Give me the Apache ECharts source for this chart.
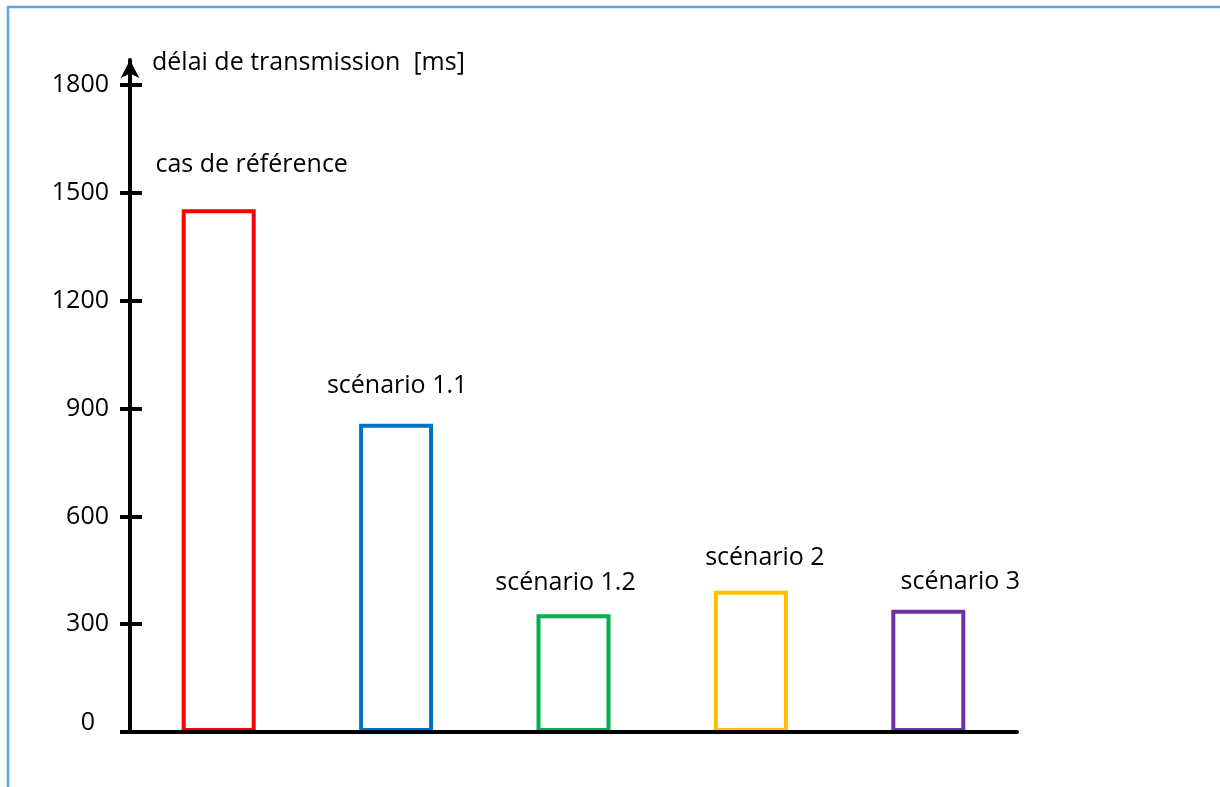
<!DOCTYPE html>
<html>
<head>
<meta charset="utf-8">
<script src="https://cdn.jsdelivr.net/npm/echarts@6/dist/echarts.min.js"></script>
<style>
  html, body { margin: 0; padding: 0; background: #fff; }
  #chart { width: 1220px; height: 787px; }
</style>
</head>
<body>
<div id="chart"></div>
<script>
// data
const categories = ["cas de référence", "scénario 1.1", "scénario 1.2", "scénario 2", "scénario 3"];
const delays = [1455, 858, 328, 393, 340];
const yTicks = [0, 300, 600, 900, 1200, 1500, 1800];

// styling
const barColors = ["#FF0000", "#0070C0", "#00B050", "#FFC000", "#7030A0"];
const labelNudge = [[33, -10], [1, -3], [-8, 3], [14, 2], [32, 7]];
const FONT = "Open Sans";

let chart = echarts.init(document.getElementById("chart"));

// specify chart configuration item and data
let option = {
  backgroundColor: "#fff",
  animation: false,
  graphic: [
    {
      type: "polyline",
      shape: { points: [[8, 787], [8, 7], [1220, 7]] },
      style: { stroke: "#5DA5EC", lineWidth: 2.5, fill: null },
    },
  ],
  grid: { left: 130, right: 203, top: 60, bottom: 55 },
  xAxis: {
    type: "category",
    data: categories,
    z: 5,
    axisLine: { show: true, lineStyle: { color: "#000", width: 4 } },
    axisTick: { show: false },
    axisLabel: { show: false },
    splitLine: { show: false },
  },
  yAxis: [
    {
      type: "value",
      position: "left",
      min: 0,
      max: 1870,
      name: "délai de transmission  [ms]",
      nameLocation: "end",
      nameGap: -3,
      nameTextStyle: {
        fontFamily: FONT,
        fontSize: 25,
        color: "#000",
        align: "left",
        verticalAlign: "middle",
        padding: [0, 0, 0, 22],
      },
      z: 5,
      axisLine: {
        show: true,
        symbol: ["none", "arrow"],
        symbolSize: [14, 18],
        lineStyle: { color: "#000", width: 4 },
      },
      axisTick: {
        show: true,
        length: 10,
        customValues: yTicks,
        lineStyle: { color: "#000", width: 4 },
      },
      axisLabel: {
        customValues: yTicks,
        margin: 21,
        fontFamily: FONT,
        fontSize: 25,
        color: "#000",
        formatter: (v) => (v === 0 ? "{z|0}" : String(v)),
        rich: {
          z: { fontFamily: FONT, fontSize: 25, color: "#000", padding: [0, 14, 18, 0] },
        },
      },
      splitLine: { show: false },
    },
    {
      // second copy of the axis so the ticks cross the line
      type: "value",
      position: "left",
      min: 0,
      max: 1870,
      z: 5,
      axisLine: { show: false },
      axisTick: {
        show: true,
        inside: true,
        length: 12,
        customValues: yTicks,
        lineStyle: { color: "#000", width: 4 },
      },
      axisLabel: { show: false },
      splitLine: { show: false },
    },
  ],
  series: [
    {
      type: "bar",
      barWidth: 74,
      data: delays.map((v, i) => ({
        value: v,
        itemStyle: { color: "rgba(255,255,255,0)", borderColor: barColors[i], borderWidth: 4 },
        label: { offset: labelNudge[i] },
      })),
      label: {
        show: true,
        position: "top",
        distance: 22,
        fontFamily: FONT,
        fontSize: 25,
        color: "#000",
        formatter: (p) => p.name,
      },
    },
  ],
};

chart.setOption(option);
</script>
</body>
</html>
